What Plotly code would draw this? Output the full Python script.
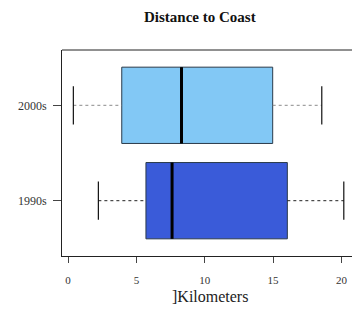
import plotly.graph_objects as go

groups = ["1990s", "2000s"]
positions = [1, 2]
whisker_low = [2.22, 0.39]
q1 = [5.70, 3.93]
median = [7.61, 8.30]
q3 = [16.04, 14.97]
whisker_high = [20.17, 18.56]
fill_colors = ["#3A5BD9", "#82C8F5"]
whisker_colors = ["#222222", "#8a8a8a"]
x_ticks = [0, 5, 10, 15, 20]

BOX_W = 0.8
fig = go.Figure()
for i, g in enumerate(groups):
    p = positions[i]
    fig.add_trace(go.Box(
        y=[p], q1=[q1[i]], median=[median[i]], q3=[q3[i]],
        lowerfence=[q1[i]], upperfence=[q3[i]], orientation="h",
        width=BOX_W, fillcolor=fill_colors[i],
        line=dict(color="#2a3a4a", width=1), whiskerwidth=0,
        boxpoints=False, hoverinfo="skip", showlegend=False))
    # whiskers (dashed)
    fig.add_trace(go.Scatter(x=[whisker_low[i], q1[i], None, q3[i], whisker_high[i]],
                             y=[p, p, None, p, p], mode="lines",
                             line=dict(color=whisker_colors[i], width=1, dash="3px,3px"),
                             showlegend=False, hoverinfo="skip"))
    # caps
    h = BOX_W / 4
    fig.add_trace(go.Scatter(x=[whisker_low[i], whisker_low[i], None, whisker_high[i], whisker_high[i]],
                             y=[p - h, p + h, None, p - h, p + h], mode="lines",
                             line=dict(color="#111111", width=1.2),
                             showlegend=False, hoverinfo="skip"))
    # median
    fig.add_trace(go.Scatter(x=[median[i], median[i]], y=[p - BOX_W / 2, p + BOX_W / 2],
                             mode="lines", line=dict(color="#000000", width=3),
                             showlegend=False, hoverinfo="skip"))

font = "Liberation Serif"
fig.update_layout(
    width=352, height=320,
    margin=dict(l=62, r=0, t=50, b=64),
    paper_bgcolor="white", plot_bgcolor="white",
    font=dict(family=font, color="#333333", size=11),
    xaxis=dict(range=[-0.44, 20.77], tickvals=x_ticks, showgrid=False, zeroline=False,
               showline=True, linecolor="#222222", linewidth=1,
               ticks="outside", ticklen=6, tickcolor="#444444",
               ticklabelstandoff=8, tickfont=dict(family=font, size=11, color="#333333")),
    yaxis=dict(range=[0.42, 2.58], tickvals=positions, ticktext=groups, showgrid=False,
               zeroline=False, showline=True, linecolor="#222222", linewidth=1,
               ticks="outside", ticklen=8, tickcolor="#444444",
               ticklabelstandoff=4, tickfont=dict(family=font, size=12, color="#333333")),
    shapes=[dict(type="line", xref="paper", yref="paper", x0=0, x1=1, y0=1, y1=1,
                 line=dict(color="#222222", width=1))],
    annotations=[
        dict(text="<b>Distance to Coast</b>", xref="paper", yref="paper",
             x=(200 - 62) / 290, y=1, yshift=33, xanchor="center", yanchor="middle",
             showarrow=False, font=dict(family=font, size=15, color="#111111")),
        dict(text="]Kilometers", xref="paper", yref="paper",
             x=(210 - 62) / 290, y=0, yshift=-40, xanchor="center", yanchor="middle",
             showarrow=False, font=dict(family=font, size=16, color="#222222")),
    ],
)
fig.write_html("out.html")
